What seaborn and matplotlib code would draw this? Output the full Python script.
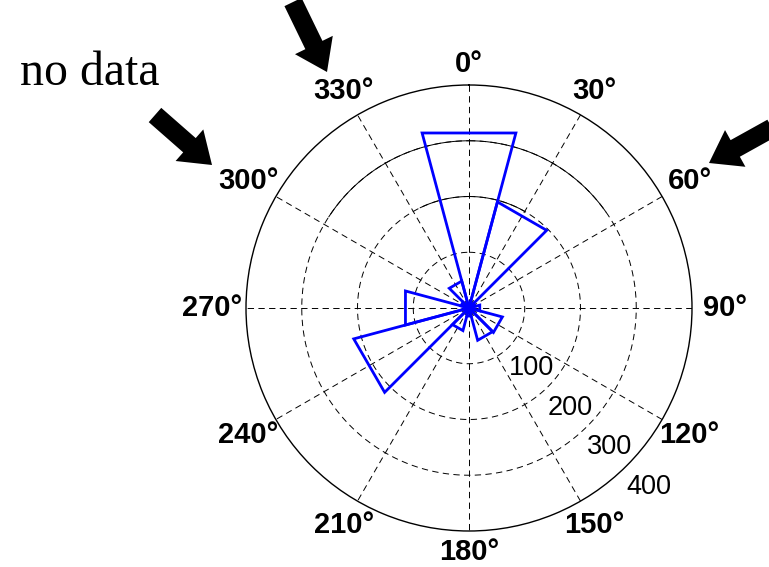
import numpy as np
import pandas as pd
import matplotlib
matplotlib.use("Agg")
import matplotlib.pyplot as plt
import matplotlib.transforms as mtransforms
from matplotlib.patches import FancyArrow
import seaborn as sns

# Rose histogram: bin centres (degrees clockwise from north) and counts per bin
bin_centers = [0, 30, 60, 90, 120, 150, 180, 210, 240, 270, 300, 330]
counts = [325, 197, 12, 20, 62, 60, 15, 42, 214, 118, 15, 50]
bin_width = 30

# Radial rings and their labels
ring_values = [100, 200, 300, 400]
ring_labels = ["100", "200", "300", "400"]

# Angular spokes and their labels
angle_ticks = [0, 30, 60, 90, 120, 150, 180, 210, 240, 270, 300, 330]
angle_labels = ["0°", "30°", "60°", "90°", "120°", "150°",
                "180°", "210°", "240°", "270°", "300°", "330°"]

# Ring stretches drawn as solid lines (ring value, start deg, end deg)
solid_ring = [200, 300]
solid_start = [334, 303]
solid_end = [390, 415]

note_text = "no data"

sns.set_style("white")
plt.rcParams["font.family"] = ["Liberation Sans", "DejaVu Sans"]
plt.rcParams["text.color"] = "black"

W, H = 769, 567
fig = plt.figure(figsize=(W / 100, H / 100), dpi=100)

# polar axes centred at (469, 308) px with radius 223 px
cx, cy, R = 469, 308, 223
ax = fig.add_axes([(cx - R) / W, (H - cy - R) / H, 2 * R / W, 2 * R / H],
                  projection="polar")
ax.set_theta_zero_location("N")
ax.set_theta_direction(-1)
rmax = ring_values[-1]
ax.set_ylim(0, rmax)
ax.grid(False)
ax.set_xticks([])
ax.set_yticks([])
ax.spines["polar"].set_linewidth(1.0)
ax.spines["polar"].set_color("black")

dash = (0, (6.5, 4.5))
grid_kw = dict(color="black", lw=0.7, zorder=1)

# dashed rings
th = np.linspace(0, 2 * np.pi, 721)
for rv in ring_values[:-1]:
    ax.plot(th, np.full_like(th, rv), ls=dash, **grid_kw)

# solid stretches of rings
for rv, a0, a1 in zip(solid_ring, solid_start, solid_end):
    t = np.deg2rad(np.linspace(a0, a1, 200))
    ax.plot(t, np.full_like(t, rv), ls="-", **grid_kw)

# dashed spokes as full diameters
for a in angle_ticks[:6]:
    t = np.deg2rad(a)
    ax.plot([t, t + np.pi], [rmax, rmax], ls=dash, **grid_kw)

# rose outline: centre -> (left edge, count) -> (right edge, count) -> centre
rows = []
for i, (c, n) in enumerate(zip(bin_centers, counts)):
    lo, hi = c - bin_width / 2, c + bin_width / 2
    for a, r in ((c, 0), (lo, n), (hi, n), (c, 0)):
        rows.append({"bin": i, "theta": np.deg2rad(a), "r": r})
rose = pd.DataFrame(rows)
sns.lineplot(data=rose, x="theta", y="r", units="bin", estimator=None,
             sort=False, color="#0000ff", lw=2.0, legend=False, ax=ax,
             solid_joinstyle="miter", zorder=3)
ax.set_xlabel("")
ax.set_ylabel("")
ax.set_ylim(0, rmax)

# angle labels around the rim
for a, lab in zip(angle_ticks, angle_labels):
    t = np.deg2rad(a)
    f = 1.095 + 0.055 * abs(np.sin(t))
    ax.text(t, rmax * f, lab, ha="center", va="center", fontsize=21,
            fontweight="bold", color="black", clip_on=False)

# ring value labels along the 135° direction
lab_tr = mtransforms.offset_copy(ax.transData, fig=fig, x=0, y=-8, units="dots")
for rv, lab in zip(ring_values, ring_labels):
    ax.text(np.deg2rad(135), rv, lab, ha="left", va="top", fontsize=19.5,
            color="black", transform=lab_tr, clip_on=False)

# overlay in pixel coordinates for the note and arrows
ov = fig.add_axes([0, 0, 1, 1], zorder=5)
ov.set_xlim(0, W)
ov.set_ylim(H, 0)
ov.axis("off")
ov.patch.set_alpha(0)
ov.text(20, 85, note_text, ha="left", va="baseline", fontsize=34.5,
        color="black", family=["Liberation Serif", "DejaVu Serif"])

arrow_tail = [(293, 2), (155, 115), (772, 128)]
arrow_tip = [(327, 72), (212, 165), (709, 163)]
for (x0, y0), (x1, y1) in zip(arrow_tail, arrow_tip):
    ov.add_patch(FancyArrow(x0, y0, x1 - x0, y1 - y0, width=19,
                            head_width=42, head_length=30,
                            length_includes_head=True, color="black", lw=0))

fig.savefig("out.png", dpi=100)
